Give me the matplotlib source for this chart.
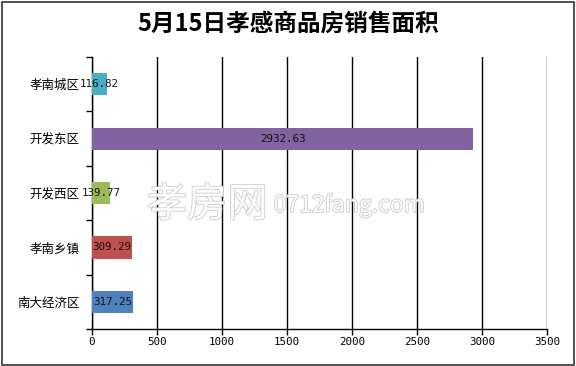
import matplotlib.pyplot as plt
import matplotlib.patheffects as pe
from matplotlib.patches import Rectangle
import numpy as np

plt.rcParams['font.family'] = ['Noto Sans CJK SC', 'DejaVu Sans']

# 数据
categories = ['孝南城区', '开发东区', '开发西区', '孝南乡镇', '南大经济区']
values = [116.82, 2932.63, 139.77, 309.29, 317.25]
colors = ['#4BACC6', '#8064A2', '#9BBB59', '#C0504D', '#4F81BD']
title = '5月15日孝感商品房销售面积'

fig = plt.figure(figsize=(5.76, 3.66), dpi=100)
ax = fig.add_axes([0.1597, 0.101, 0.79, 0.743])

pos = np.arange(len(categories))
ax.barh(pos, values, height=0.41, color=colors, zorder=3)

for y, v in zip(pos, values):
    ax.text(v / 2, y, f'{v:.2f}', ha='center', va='center', fontsize=7.8,
            family='DejaVu Sans Mono', color='#111111', zorder=5)

ax.set_xlim(0, 3500)
ax.set_ylim(len(categories) - 0.5, -0.5)
ax.set_xticks(np.arange(0, 3501, 500))
ax.xaxis.grid(True, color='black', linewidth=1.0, zorder=0)
ax.set_axisbelow(True)

# 类别标签放在两个刻度之间
ax.set_yticks(np.arange(-0.5, len(categories), 1.0))
ax.set_yticklabels([])
ax.set_yticks(pos, minor=True)
ax.set_yticklabels(categories, minor=True, fontsize=9)
ax.tick_params(axis='y', which='minor', length=0, pad=9)
ax.tick_params(axis='y', which='major', length=4, width=1, direction='out')
ax.tick_params(axis='x', length=4, width=1, direction='out', pad=2)
for lab in ax.get_xticklabels():
    lab.set_family('DejaVu Sans Mono')
    lab.set_fontsize(7.8)

for s in ['top', 'right']:
    ax.spines[s].set_visible(False)
for s in ['left', 'bottom']:
    ax.spines[s].set_linewidth(1.0)
    ax.spines[s].set_color('black')

fig.text(0.5, 0.935, title, ha='center', va='center', fontsize=17,
         fontweight='bold', color='black')

# 水印
fig.text(0.255, 0.44, '孝房网', fontsize=29, color='white', alpha=0.9,
         ha='left', va='center', zorder=4,
         path_effects=[pe.withStroke(linewidth=1.2, foreground='#c8c8c8')])
fig.text(0.475, 0.44, '0712fang.com', fontsize=16.5, color='white', alpha=0.9,
         ha='left', va='center', zorder=4,
         path_effects=[pe.withStroke(linewidth=1.2, foreground='#c8c8c8')])

fig.patches.append(Rectangle((0.004, 0.004), 0.993, 0.991, transform=fig.transFigure,
                             fill=False, edgecolor='#333333', linewidth=1.2))

fig.savefig('out.png', dpi=100)
